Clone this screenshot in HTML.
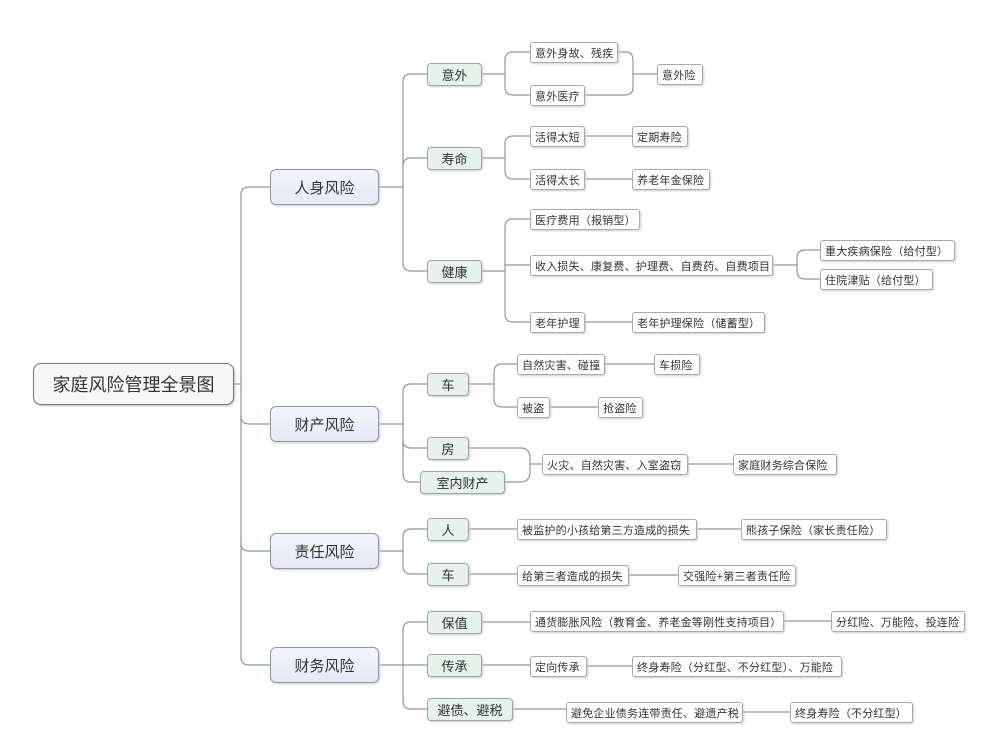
<!DOCTYPE html>
<html><head><meta charset="utf-8"><style>
body{margin:0;width:1003px;height:756px;background:#fff;position:relative;overflow:hidden;font-family:"Liberation Sans","Noto Sans CJK SC",sans-serif;color:#333}
.n{position:absolute;box-sizing:border-box;display:flex;align-items:center;justify-content:center;white-space:nowrap;overflow:hidden}
.r{border:1.5px solid #777;border-radius:8px;background:#f7f7f7;font-size:18px;box-shadow:1px 1px 2px #bbb}
.a{border:1.5px solid #8a96aa;border-radius:6px;background:linear-gradient(#f4f5fb,#e6e9f4);font-size:15px;box-shadow:1px 1px 2px #ccc}
.b{border:1.3px solid #99a7a1;border-radius:4px;background:#e7f2ec;font-size:13px;box-shadow:1px 1px 2px #ccc}
.c{border:1px solid #aaa;border-radius:3px;background:#fff;font-size:11px;box-shadow:1px 1px 2px #ccc;justify-content:flex-start;padding-left:4px;letter-spacing:0.2px}
svg{position:absolute;left:0;top:0}
</style></head><body>
<svg width="1003" height="756" fill="none" stroke="#8d9a96" stroke-width="1.2">
<path d="M234 384H241M241 384V195Q241 187 249 187H270M241 384V416Q241 424 249 424H270M241 384V543Q241 551 249 551H270M241 384V657Q241 665 249 665H270"/>
<path d="M379 187H403M403 187V82Q403 74 411 74H427M403 187V166Q403 158 411 158H427M403 187V263Q403 271 411 271H427"/>
<path d="M482 74H505M505 74V60Q505 52 513 52H530M505 74V87Q505 95 513 95H530"/>
<path d="M618 52H625Q633 52 633 60V87Q633 95 625 95H585M633 74H657"/>
<path d="M482 158H505M505 158V144Q505 136 513 136H530M505 158V171Q505 179 513 179H530M585 136H632M585 179H632"/>
<path d="M482 271H505M505 271V227Q505 219 513 219H530M505 265H530M505 271V314Q505 322 513 322H530"/>
<path d="M773 265H797M797 265V258Q797 250 805 250H820M797 265V271Q797 279 805 279H820M585 322H632"/>
<path d="M379 424H403M403 424V392Q403 384 411 384H427M403 424V440Q403 448 411 448H427M403 424V474Q403 482 411 482H420"/>
<path d="M469 384H494M494 384V372Q494 364 502 364H517M494 384V399Q494 407 502 407H517M605 364H654M550 407H598"/>
<path d="M469 448H520Q530 448 530 458V472Q530 482 520 482H505M530 464H542M688 464H733"/>
<path d="M379 551H403M403 551V537Q403 529 411 529H427M403 551V566Q403 574 411 574H427M469 529H517M697 529H741M469 574H517M629 575H678"/>
<path d="M379 665H427M403 665V630Q403 622 411 622H427M403 665V701Q403 709 411 709H427M482 622H530M784 621H831M482 665H530M587 666H632M513 709H566M743 712H790"/>
</svg>
<div class="n r" style="left:33px;top:363px;width:201px;height:42px">家庭风险管理全景图</div>
<div class="n a" style="left:270px;top:169px;width:109px;height:36px">人身风险</div>
<div class="n a" style="left:270px;top:406px;width:109px;height:36px">财产风险</div>
<div class="n a" style="left:270px;top:533px;width:109px;height:36px">责任风险</div>
<div class="n a" style="left:270px;top:647px;width:109px;height:36px">财务风险</div>
<div class="n b" style="left:427px;top:63px;width:55px;height:23px">意外</div>
<div class="n b" style="left:427px;top:147px;width:55px;height:23px">寿命</div>
<div class="n b" style="left:427px;top:260px;width:55px;height:23px">健康</div>
<div class="n b" style="left:427px;top:373px;width:42px;height:23px">车</div>
<div class="n b" style="left:427px;top:437px;width:42px;height:23px">房</div>
<div class="n b" style="left:420px;top:471px;width:85px;height:23px">室内财产</div>
<div class="n b" style="left:427px;top:518px;width:42px;height:23px">人</div>
<div class="n b" style="left:427px;top:563px;width:42px;height:23px">车</div>
<div class="n b" style="left:427px;top:611px;width:55px;height:23px">保值</div>
<div class="n b" style="left:427px;top:654px;width:55px;height:23px">传承</div>
<div class="n b" style="left:427px;top:698px;width:86px;height:23px">避债、避税</div>
<div class="n c" style="left:530px;top:42px;width:88px;height:21px">意外身故、残疾</div>
<div class="n c" style="left:530px;top:85px;width:55px;height:21px">意外医疗</div>
<div class="n c" style="left:657px;top:64px;width:46px;height:21px">意外险</div>
<div class="n c" style="left:530px;top:126px;width:55px;height:21px">活得太短</div>
<div class="n c" style="left:632px;top:126px;width:56px;height:21px">定期寿险</div>
<div class="n c" style="left:530px;top:169px;width:55px;height:21px">活得太长</div>
<div class="n c" style="left:632px;top:169px;width:78px;height:21px">养老年金保险</div>
<div class="n c" style="left:530px;top:209px;width:110px;height:21px">医疗费用（报销型）</div>
<div class="n c" style="left:530px;top:255px;width:243px;height:21px">收入损失、康复费、护理费、自费药、自费项目</div>
<div class="n c" style="left:820px;top:240px;width:135px;height:21px">重大疾病保险（给付型）</div>
<div class="n c" style="left:820px;top:269px;width:113px;height:21px">住院津贴（给付型）</div>
<div class="n c" style="left:530px;top:312px;width:55px;height:21px">老年护理</div>
<div class="n c" style="left:632px;top:312px;width:133px;height:21px">老年护理保险（储蓄型）</div>
<div class="n c" style="left:517px;top:354px;width:88px;height:21px">自然灾害、碰撞</div>
<div class="n c" style="left:654px;top:354px;width:46px;height:21px">车损险</div>
<div class="n c" style="left:517px;top:397px;width:33px;height:21px">被盗</div>
<div class="n c" style="left:598px;top:397px;width:45px;height:21px">抢盗险</div>
<div class="n c" style="left:542px;top:454px;width:146px;height:21px">火灾、自然灾害、入室盗窃</div>
<div class="n c" style="left:733px;top:454px;width:104px;height:21px">家庭财务综合保险</div>
<div class="n c" style="left:517px;top:519px;width:180px;height:21px">被监护的小孩给第三方造成的损失</div>
<div class="n c" style="left:741px;top:519px;width:146px;height:21px">熊孩子保险（家长责任险）</div>
<div class="n c" style="left:517px;top:565px;width:112px;height:21px">给第三者造成的损失</div>
<div class="n c" style="left:678px;top:565px;width:118px;height:21px">交强险+第三者责任险</div>
<div class="n c" style="left:530px;top:611px;width:254px;height:21px">通货膨胀风险（教育金、养老金等刚性支持项目）</div>
<div class="n c" style="left:831px;top:611px;width:134px;height:21px">分红险、万能险、投连险</div>
<div class="n c" style="left:530px;top:656px;width:57px;height:21px">定向传承</div>
<div class="n c" style="left:632px;top:656px;width:210px;height:21px">终身寿险（分红型、不分红型）、万能险</div>
<div class="n c" style="left:566px;top:702px;width:177px;height:21px">避免企业债务连带责任、避遗产税</div>
<div class="n c" style="left:790px;top:702px;width:123px;height:21px">终身寿险（不分红型）</div>
</body></html>
